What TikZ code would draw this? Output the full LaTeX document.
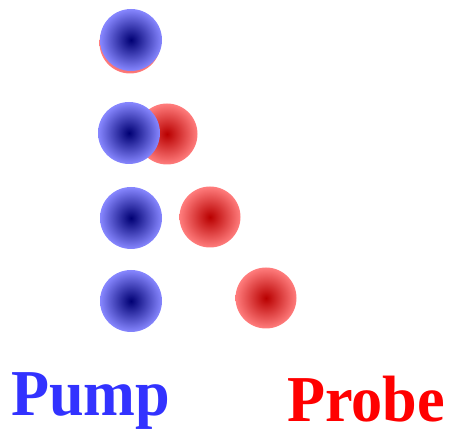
\documentclass[tikz,border=0pt]{standalone}
\usepackage{fontspec}
\setmainfont{Liberation Serif}
\definecolor{bluein}{RGB}{0,0,115}
\definecolor{blueout}{RGB}{135,135,255}
\definecolor{redin}{RGB}{185,0,0}
\definecolor{redout}{RGB}{255,125,125}
\definecolor{pumpcol}{RGB}{50,50,255}
\definecolor{probecol}{RGB}{255,0,0}
\tikzset{
  pumpball/.style={circle, minimum size=62pt, inner sep=0pt, shading=radial, inner color=bluein, outer color=blueout},
  probeball/.style={circle, minimum size=61pt, inner sep=0pt, shading=radial, inner color=redin, outer color=redout},
  lbl/.style={inner sep=0pt, font=\bfseries\fontsize{65.5}{70}\selectfont}
}
\begin{document}
\begin{tikzpicture}[x=1pt,y=-1pt]
\useasboundingbox (0,0) rectangle (456,430);
% probe pulses (behind)
\node[probeball] (r1) at (130,43) {};
\node[probeball] (r2) at (167,134) {};
\node[probeball] (r3) at (210,217) {};
\node[probeball] (r4) at (266,298) {};
% pump pulses
\node[pumpball] (b1) at (131,40) {};
\node[pumpball] (b2) at (129,133) {};
\node[pumpball] (b3) at (131,218) {};
\node[pumpball] (b4) at (131,301) {};
% labels
\node[lbl, text=pumpcol, anchor=base west] (pump) at (11,416) {\scalebox{0.95}[1]{Pump}};
\node[lbl, text=probecol, anchor=base west] (probe) at (287,422) {\scalebox{0.95}[1]{Probe}};
\end{tikzpicture}
\end{document}
